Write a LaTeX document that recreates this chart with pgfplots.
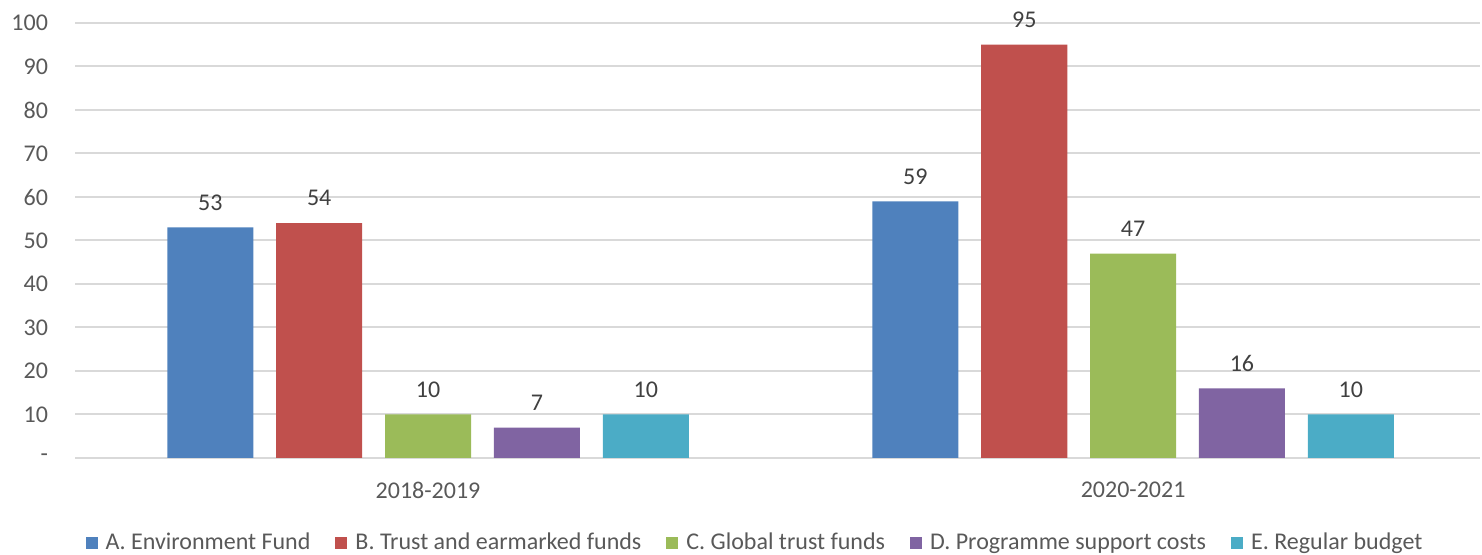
\documentclass[border=0pt]{standalone}
\usepackage{pgfplots}
\pgfplotsset{compat=1.18}
\usepackage{fontspec}
\setmainfont{Carlito}
\definecolor{cA}{HTML}{4F81BD}
\definecolor{cB}{HTML}{C0504D}
\definecolor{cC}{HTML}{9BBB59}
\definecolor{cD}{HTML}{8064A2}
\definecolor{cE}{HTML}{4BACC6}
\definecolor{txt}{HTML}{595959}
\definecolor{grd}{HTML}{D9D9D9}
\begin{document}
\begin{tikzpicture}
\begin{axis}[
  at={(0,0)}, anchor=south west,
  scale only axis, width=702.5pt, height=217.5pt,
  xmin=-0.5007, xmax=1.492, ymin=0, ymax=100,
  ybar, bar width=0.122,
  xtick={0,1}, xticklabels={2018-2019,2020-2021},
  ytick={0,10,...,100}, yticklabels={-,10,20,30,40,50,60,70,80,90,100},
  major tick length=0pt,
  axis line style={draw=none},
  ymajorgrids, grid style={grd, line width=1pt},
  /pgf/number format/assume math mode=true,
  tick label style={font=\fontsize{12}{14}\selectfont, text=txt},
  yticklabel style={xshift=-10pt},
  xticklabel style={yshift=-8.5pt},
  nodes near coords,
  every node near coord/.append style={font=\fontsize{12}{14}\selectfont, text=black!75, yshift=5pt},
  legend columns=5,
  legend style={draw=none, at={(0.4847,-0.195)}, anchor=center, font=\fontsize{12}{14}\selectfont, text=txt,
    /tikz/every odd column/.append style={column sep=2pt},
    /tikz/every even column/.append style={column sep=10.5pt}},
  legend image code/.code={\fill[#1] (0pt,-3pt) rectangle (6pt,3pt);},
]
\addplot[fill=cA, draw=none, bar shift=-0.3088] coordinates {(0,53) (1,59)};
\addplot[fill=cB, draw=none, bar shift=-0.1544] coordinates {(0,54) (1,95)};
\addplot[fill=cC, draw=none, bar shift=0] coordinates {(0,10) (1,47)};
\addplot[fill=cD, draw=none, bar shift=0.1544] coordinates {(0,7) (1,16)};
\addplot[fill=cE, draw=none, bar shift=0.3088] coordinates {(0,10) (1,10)};
\legend{A. Environment Fund,B. Trust and earmarked funds,C. Global trust funds,D. Programme support costs,E. Regular budget}
\end{axis}
\pgfresetboundingbox
\path (-37.5pt,-48.5pt) rectangle (703.5pt,229pt);
\end{tikzpicture}
\end{document}
